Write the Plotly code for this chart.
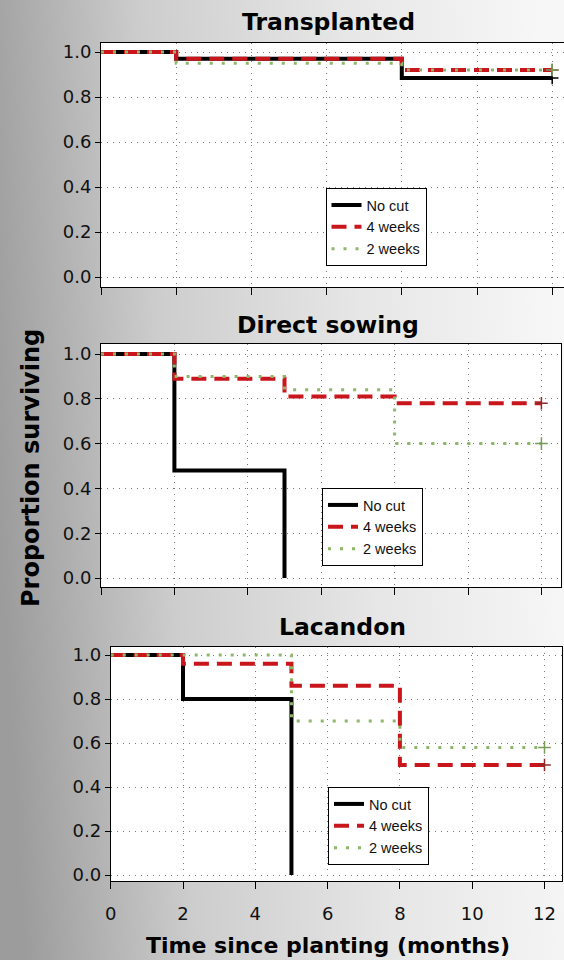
import base64
import plotly.graph_objects as go

W, H = 564, 960

# ---------------- data ----------------
months_ticks = [0, 2, 4, 6, 8, 10, 12]
prop_ticks = [0.0, 0.2, 0.4, 0.6, 0.8, 1.0]
prop_labels = ["0.0", "0.2", "0.4", "0.6", "0.8", "1.0"]
series_names = ["No cut", "4 weeks", "2 weeks"]
panel_titles = ["Transplanted", "Direct sowing", "Lacandon"]

# Transplanted
trans_nocut_t = [0, 2, 8, 12]
trans_nocut_s = [1.0, 0.97, 0.885, 0.885]
trans_4wk_t = [0, 2, 8, 12]
trans_4wk_s = [1.0, 0.97, 0.92, 0.92]
trans_2wk_t = [0, 2, 8, 12]
trans_2wk_s = [1.0, 0.95, 0.92, 0.92]

# Direct sowing
direct_nocut_t = [0, 2, 5]
direct_nocut_s = [1.0, 0.48, 0.0]
direct_4wk_t = [0, 2, 5, 8, 12]
direct_4wk_s = [1.0, 0.89, 0.81, 0.78, 0.78]
direct_2wk_t = [0, 2, 5, 8, 12]
direct_2wk_s = [1.0, 0.90, 0.84, 0.60, 0.60]

# Lacandon
lac_nocut_t = [0, 2, 5]
lac_nocut_s = [1.0, 0.80, 0.0]
lac_4wk_t = [0, 2, 5, 8, 12]
lac_4wk_s = [1.0, 0.96, 0.86, 0.50, 0.50]
lac_2wk_t = [0, 5, 8, 12]
lac_2wk_s = [1.0, 0.70, 0.58, 0.58]

panel_data = [
    [(trans_nocut_t, trans_nocut_s), (trans_4wk_t, trans_4wk_s), (trans_2wk_t, trans_2wk_s)],
    [(direct_nocut_t, direct_nocut_s), (direct_4wk_t, direct_4wk_s), (direct_2wk_t, direct_2wk_s)],
    [(lac_nocut_t, lac_nocut_s), (lac_4wk_t, lac_4wk_s), (lac_2wk_t, lac_2wk_s)],
]

# ---------------- styling / geometry ----------------
line_styles = [
    dict(color="#000000", width=4, dash="solid"),
    dict(color="#c8161c", width=4, dash="15px,8px"),
    dict(color="#8db86a", width=3, dash="3px,9px"),
]
censor_colors = ["#000000", "#8a2a2a", "#7a9a5a"]

# pixel geometry of each panel: plot-area left/right/top/bottom, pixel of y=1 and y=0, px per month
geom = [
    dict(l=101, r=564, t=43, b=287, y1=52, y0=277, ppm=37.6),
    dict(l=101, r=561, t=344, b=587, y1=354, y0=578, ppm=36.7),
    dict(l=110.7, r=562, t=647, b=881, y1=655, y0=875, ppm=36.15),
]
legend_pos = [(325.5, 188), (322, 488), (328, 787)]
title_pos = [(328, 22), (328, 325), (342, 627)]

fig = go.Figure()

for p in range(3):
    sfx = "" if p == 0 else str(p + 1)
    xa, ya = "x" + sfx, "y" + sfx
    leg = "legend" + sfx
    for k in range(3):
        t, s = panel_data[p][k]
        fig.add_trace(go.Scatter(
            x=t, y=s, mode="lines", line_shape="hv", name=series_names[k],
            line=line_styles[k], xaxis=xa, yaxis=ya, legend=leg,
        ))
    for k in range(3):
        t, s = panel_data[p][k]
        if t[-1] == months_ticks[-1] and (p == 0 or k > 0):
            fig.add_trace(go.Scatter(
                x=t[-1:], y=s[-1:], mode="markers", showlegend=False,
                marker=dict(symbol="cross-thin", size=9,
                            line=dict(width=1.5, color=censor_colors[k])),
                xaxis=xa, yaxis=ya, hoverinfo="skip",
            ))

layout = dict(
    width=W, height=H, margin=dict(l=0, r=0, t=0, b=0, pad=0),
    template="none",
    paper_bgcolor="#d0d0d0", plot_bgcolor="rgba(0,0,0,0)",
    showlegend=True,
    font=dict(family="DejaVu Sans", color="#000000"),
)

shapes = []
annotations = []
for p, g in enumerate(geom):
    sfx = "" if p == 0 else str(p + 1)
    ppu = g["y0"] - g["y1"]
    yr = [-(g["b"] - g["y0"]) / ppu, 1 + (g["y1"] - g["t"]) / ppu]
    xr = [0, (g["r"] - g["l"]) / g["ppm"]]
    layout["xaxis" + sfx] = dict(
        domain=[g["l"] / W, g["r"] / W], range=xr, anchor="y" + sfx,
        tickvals=months_ticks, showticklabels=(p == 2),
        ticks="outside", ticklen=7, tickwidth=1, tickcolor="#000",
        ticklabelstandoff=9,
        showline=True, linecolor="#000", linewidth=1, mirror=True,
        showgrid=True, gridcolor="#7a7a7a", gridwidth=1, griddash="1px,5px",
        zeroline=False, automargin=False, fixedrange=True,
        tickfont=dict(family="DejaVu Sans", size=18, color="#111"),
    )
    layout["yaxis" + sfx] = dict(
        domain=[1 - g["b"] / H, 1 - g["t"] / H], range=yr, anchor="x" + sfx,
        tickvals=prop_ticks, ticktext=prop_labels,
        ticks="outside", ticklen=5, tickwidth=1, tickcolor="#000",
        showline=True, linecolor="#000", linewidth=1, mirror=True,
        showgrid=True, gridcolor="#7a7a7a", gridwidth=1, griddash="1px,5px",
        zeroline=False, automargin=False, fixedrange=True,
        tickfont=dict(family="DejaVu Sans", size=18, color="#111"),
    )
    shapes.append(dict(type="rect", xref="x" + sfx + " domain", yref="y" + sfx + " domain",
                       x0=0, x1=1, y0=0, y1=1, fillcolor="#ffffff",
                       line=dict(width=0), layer="below"))
    lx, ly = legend_pos[p]
    layout["legend" + sfx] = dict(
        x=lx / W, y=1 - ly / H, xref="paper", yref="paper",
        xanchor="left", yanchor="top",
        bgcolor="#ffffff", bordercolor="#000000", borderwidth=1,
        font=dict(family="Liberation Sans", size=14.5, color="#111"),
        itemwidth=30, tracegroupgap=0,
    )
    tx, ty = title_pos[p]
    annotations.append(dict(text="<b>%s</b>" % panel_titles[p], xref="paper", yref="paper",
                            x=tx / W, y=1 - ty / H, showarrow=False,
                            xanchor="center", yanchor="middle",
                            font=dict(family="DejaVu Sans", size=23.5, color="#000")))

annotations.append(dict(text="<b>Proportion surviving</b>", xref="paper", yref="paper",
                        x=31 / W, y=1 - 468 / H, showarrow=False, textangle=-90,
                        xanchor="center", yanchor="middle",
                        font=dict(family="DejaVu Sans", size=24, color="#000")))
annotations.append(dict(text="<b>Time since planting (months)</b>", xref="paper", yref="paper",
                        x=328 / W, y=1 - 945 / H, showarrow=False,
                        xanchor="center", yanchor="middle",
                        font=dict(family="DejaVu Sans", size=22, color="#000")))

svg = ('<svg xmlns="http://www.w3.org/2000/svg" width="564" height="960">'
       '<defs><linearGradient id="g" x1="0" y1="0.55" x2="1" y2="0.45">'
       '<stop offset="0" stop-color="#9c9c9c"/>'
       '<stop offset="0.3" stop-color="#cdcdcd"/>'
       '<stop offset="0.65" stop-color="#e6e6e6"/>'
       '<stop offset="1" stop-color="#f7f7f7"/>'
       '</linearGradient></defs>'
       '<rect width="564" height="960" fill="url(#g)"/></svg>')
src = "data:image/svg+xml;base64," + base64.b64encode(svg.encode()).decode()

layout["images"] = [dict(source=src, xref="paper", yref="paper", x=0, y=1,
                         sizex=1, sizey=1, sizing="stretch", layer="below",
                         xanchor="left", yanchor="top")]
layout["shapes"] = shapes
layout["annotations"] = annotations

fig.update_layout(**layout)
fig.write_html(
    "out.html",
    config={"displayModeBar": False, "responsive": False},
    post_script="document.body.style.margin='0';document.body.style.overflow='hidden';",
)
